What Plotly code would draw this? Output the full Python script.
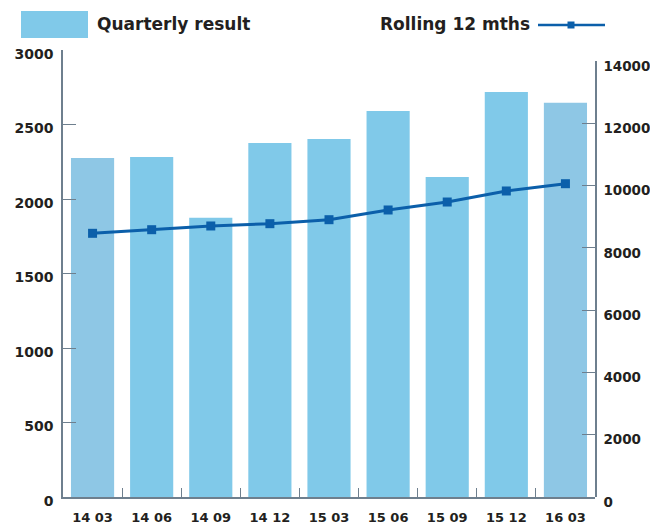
import plotly.graph_objects as go

quarters = ["14 03", "14 06", "14 09", "14 12", "15 03", "15 06", "15 09", "15 12", "16 03"]
quarterly_result = [2275, 2282, 1875, 2376, 2403, 2591, 2148, 2718, 2646]
rolling_12m = [8467, 8583, 8702, 8776, 8904, 9216, 9472, 9826, 10060]

left_ticks = [0, 500, 1000, 1500, 2000, 2500, 3000]
right_ticks = [0, 2000, 4000, 6000, 8000, 10000, 12000, 14000]

BAR = "#80C9E9"
BAR_ALT = "#8EC7E5"
LINE = "#0B5FAA"
AXIS = "#6E7F8E"
TXT = "#231F20"
FONT = "DejaVu Sans"

bar_colors = [BAR] * len(quarters)
bar_colors[0] = BAR_ALT
bar_colors[-1] = BAR_ALT

fig = go.Figure()
fig.add_trace(go.Bar(x=quarters, y=quarterly_result, marker=dict(color=bar_colors, line=dict(width=0)),
                     yaxis="y", showlegend=False, hoverinfo="x+y"))
fig.add_trace(go.Scatter(x=quarters, y=rolling_12m, mode="lines+markers", yaxis="y2",
                         line=dict(color=LINE, width=3),
                         marker=dict(symbol="square", size=9, color=LINE),
                         showlegend=False))

# page body has an 8px margin; the figure is sized to fit the 658x526 window
fig.update_layout(
    width=650, height=518,
    margin=dict(l=55, r=63, t=42, b=29, autoexpand=False),
    paper_bgcolor="white", plot_bgcolor="rgba(0,0,0,0)",
    bargap=0.27,
    font=dict(family=FONT, color=TXT),
    xaxis=dict(type="category", range=[-0.5, 8.5], showgrid=False, zeroline=False, automargin=False,
               showline=True, linecolor=AXIS, linewidth=1.5,
               ticks="inside", tickson="boundaries", ticklen=9, tickcolor=AXIS, tickwidth=1.2,
               tickfont=dict(family=FONT, size=13, color=TXT, weight="bold"),
               ticklabelstandoff=8),
    yaxis=dict(range=[0, 3000], tickvals=left_ticks, ticktext=[str(v) for v in left_ticks],
               showgrid=False, zeroline=False, automargin=False,
               showline=True, linecolor=AXIS, linewidth=1.5,
               ticks="inside", ticklen=13, tickcolor=AXIS, tickwidth=1.2,
               tickfont=dict(family=FONT, size=14, color=TXT, weight="bold"),
               ticklabelstandoff=5, ticklabelshift=4),
    yaxis2=dict(range=[0, 14000], tickvals=right_ticks, ticktext=[str(v) for v in right_ticks],
                domain=[0, 436 / 447], anchor="x", automargin=False,
                side="right", showgrid=False, zeroline=False,
                showline=True, linecolor=AXIS, linewidth=1.5,
                ticks="inside", ticklen=13, tickcolor=AXIS, tickwidth=1.2,
                tickfont=dict(family=FONT, size=13.5, color=TXT, weight="bold"),
                ticklabelstandoff=4, ticklabelshift=5),
)

# Legend drawn as header
fig.add_shape(type="rect", xref="paper", yref="paper",
              x0=(21 - 63) / 532, x1=(88 - 63) / 532,
              y0=(497 - 38) / 447, y1=(497 - 11) / 447,
              fillcolor=BAR, line=dict(width=0))
fig.add_annotation(text="Quarterly result", xref="paper", yref="paper",
                   x=(95 - 63) / 532, y=(497 - 24) / 447, xanchor="left", yanchor="middle",
                   showarrow=False, font=dict(family=FONT, size=17, color=TXT, weight="bold"))
fig.add_annotation(text="Rolling 12 mths", xref="paper", yref="paper",
                   x=(532 - 63) / 532, y=(497 - 24) / 447, xanchor="right", yanchor="middle",
                   showarrow=False, font=dict(family=FONT, size=17, color=TXT, weight="bold"))
fig.add_shape(type="line", xref="paper", yref="paper",
              x0=(538 - 63) / 532, x1=(605 - 63) / 532,
              y0=(497 - 25) / 447, y1=(497 - 25) / 447,
              line=dict(color=LINE, width=2.5))
fig.add_shape(type="rect", xref="paper", yref="paper",
              x0=(567.5 - 63) / 532, x1=(574.5 - 63) / 532,
              y0=(497 - 28.5) / 447, y1=(497 - 21.5) / 447,
              fillcolor=LINE, line=dict(width=0))

fig.write_html("out.html")
